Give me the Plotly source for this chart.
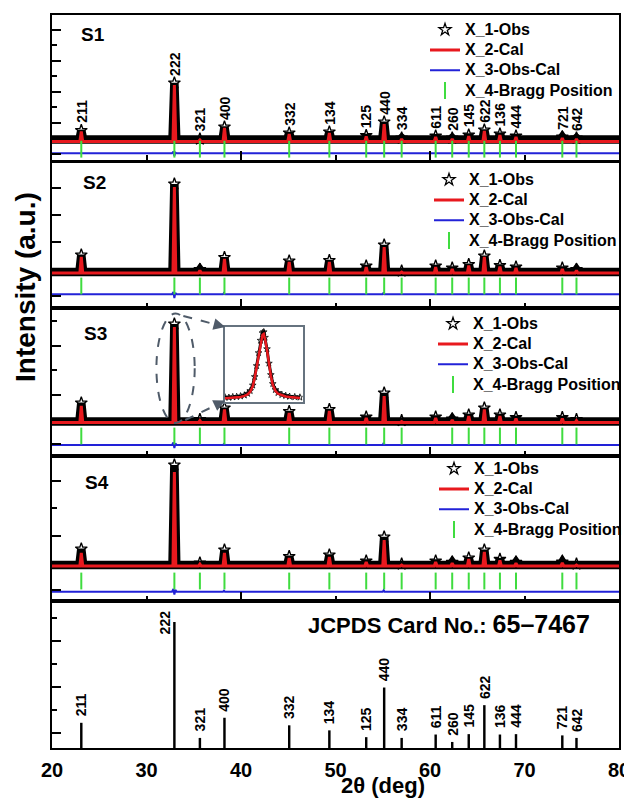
import plotly.graph_objects as go

# ---------------- data ----------------
two_theta = [23.1, 32.95, 35.65, 38.25, 45.1, 49.35, 53.25, 55.15, 57.0, 60.6,
             62.35, 64.1, 65.75, 67.4, 69.1, 74.0, 75.5]
hkl = ["211", "222", "321", "400", "332", "134", "125", "440", "334", "611",
       "260", "145", "622", "136", "444", "721", "642"]
jcpds_intensity = [20, 100, 8, 24, 18, 14, 8.6, 48, 8, 10.7, 4.8, 11, 34, 10.7, 11, 10, 8]

samples = ["S1", "S2", "S3", "S4"]
cal_background = [18.5, 35.0, 33.5, 35.0]
obs_background = [20.5, 36.0, 34.5, 36.0]

cal_S1 = [28.5, 75, 20, 32, 26, 27, 23.5, 36, 21, 23, 21, 24, 29, 25, 23, 22, 21]
obs_S1 = [29.5, 77, 21, 33, 27, 28, 24.5, 38, 22, 24, 22, 25, 30, 26, 24, 23, 22]
cal_S2 = [51, 121, 37.5, 49, 46, 46, 41, 61, 36, 41, 39, 42.5, 51, 41.5, 40, 39, 37.5]
obs_S2 = [53, 124, 38.5, 50.5, 47, 47.5, 42, 63, 37, 42, 40, 43.5, 52, 42.5, 41, 40, 38.5]
cal_S3 = [50, 129, 35.5, 46.5, 43, 45, 38, 60, 34.5, 38, 36, 40, 46.5, 40, 37.5, 37.5, 35.5]
obs_S3 = [53, 132, 36.5, 48, 44.5, 46.5, 39, 63, 35.5, 39, 37, 41, 48, 41, 38.5, 38.5, 36.5]
cal_S4 = [48, 129, 37, 48, 43, 44, 39, 61, 36, 39, 37.7, 42, 49, 40.7, 37.7, 38, 36]
obs_S4 = [52, 136, 38, 51, 44.5, 46, 40, 64, 37, 40, 38.7, 43, 51, 41.7, 38.7, 39, 37]

diff_x = [20, 32.7, 32.85, 32.95, 33.05, 33.2, 38.1, 38.2, 38.3, 55.0, 55.1, 55.2, 80]
diff_S1 = [6.7, 6.7, 8.5, 4.0, 7.5, 6.7, 6.7, 7.2, 6.7, 6.7, 7.2, 6.7, 6.7]
diff_S2 = [13.7, 13.7, 16.0, 10.0, 15.0, 13.7, 13.7, 15.0, 13.7, 13.7, 15.5, 13.7, 13.7]
diff_S3 = [11.0, 11.0, 13.5, 8.0, 12.5, 11.0, 11.0, 12.0, 11.0, 11.0, 13.0, 11.0, 11.0]
diff_S4 = [9.3, 9.3, 12.0, 6.5, 11.0, 9.3, 9.3, 10.3, 9.3, 9.3, 10.8, 9.3, 9.3]

# inset: zoom on the 222 reflection of S3
inset_x = [32.30, 32.36, 32.42, 32.48, 32.54, 32.60, 32.65, 32.69, 32.73, 32.76, 32.79,
           32.82, 32.85, 32.88, 32.90, 32.92, 32.95, 32.98, 33.01, 33.04, 33.08, 33.12,
           33.18, 33.24, 33.30, 33.38, 33.46]
inset_cal = [3.5, 3.7, 4.0, 4.3, 4.8, 5.8, 7.3, 10, 15.5, 24, 35, 48, 60, 67, 68, 63, 52,
             37, 26, 17, 11, 8, 6.3, 5.3, 4.7, 4.2, 3.8]
inset_obs = [4.5, 4.2, 4.8, 5.0, 5.6, 6.5, 8.2, 11, 16.5, 25, 36, 49, 61.5, 69, 70, 64.5,
             53, 38.5, 27, 18, 12, 9, 7.0, 6.0, 5.2, 4.8, 4.4]

# ---------------- styling ----------------
FONT = "Liberation Sans, Arial, sans-serif"
RED = "#e8191e"
BLUE = "#2222d8"
GREEN = "#3fdc3f"
GREY = "#4f5b69"
PAGE_OFF = 8                     # default body margin of the html page
W, H = 632 - PAGE_OFF, 808 - 2 * PAGE_OFF
PL, PT, PR, PB = 52, 15, 619, 748   # plot area in page pixels
ML, MT = PL - PAGE_OFF, PT - PAGE_OFF
MR, MB = 632 - PR, (H + PAGE_OFF) - PB
PW, PH = PR - PL, PB - PT


def px_x(x):
    return (x - PL) / PW


def px_y(y):
    return (PB - y) / PH


def ydom(top, bottom):
    return [px_y(bottom), px_y(top)]


panel_px = [(15, 160), (163, 308), (308, 456), (456, 601)]
jcpds_px = (601, 748)

cal_sets = [cal_S1, cal_S2, cal_S3, cal_S4]
obs_sets = [obs_S1, obs_S2, obs_S3, obs_S4]
diff_sets = [diff_S1, diff_S2, diff_S3, diff_S4]
bragg_level = [10.8, 22.0, 20.0, 20.0]
tick_spec = [(6.5, 31, 15.5), (12, 27, None), (12.5, 49, 24.5), (10.7, 54.6, 27.3)]
legend_pos = [(464, 14.5), (468, 164.5), (472, 308.5), (473, 453.5)]
label_pos = [(93, 35), (94, 182), (95, 333), (97, 482)]
LEG_TXT = "<span style='font-size:16px'>%s</span>"


def profile(bg, heights, hw):
    xs, ys = [20.0], [bg]
    for p, h in zip(two_theta, heights):
        xs += [p - hw, p, p + hw]
        ys += [bg, h, bg]
    xs.append(80.0)
    ys.append(bg)
    return xs, ys


fig = go.Figure()
layout = dict(
    width=W, height=H,
    margin=dict(l=ML, r=MR, t=MT, b=MB, autoexpand=False),
    plot_bgcolor="white", paper_bgcolor="white",
    font=dict(family=FONT, color="black"),
    showlegend=True,
)

annotations = []
shapes = []

for i, s in enumerate(samples):
    k = i + 1
    sfx = "" if k == 1 else str(k)
    xa, ya = "x" + sfx, "y" + sfx
    leg = "legend" if k == 1 else "legend%d" % k
    top, bot = panel_px[i]
    ox, oy = profile(obs_background[i], obs_sets[i], 0.2)
    cx, cy = profile(cal_background[i], cal_sets[i], 0.15)
    fig.add_trace(go.Scatter(x=ox, y=oy, mode="lines", line=dict(color="black", width=8.5),
                             showlegend=False, hoverinfo="skip", xaxis=xa, yaxis=ya))
    fig.add_trace(go.Scatter(x=two_theta, y=obs_sets[i], mode="markers", name=LEG_TXT % "X_1-Obs",
                             marker=dict(symbol="star-open", size=9, color="black",
                                         line=dict(color="black", width=1.3)),
                             legend=leg, xaxis=xa, yaxis=ya))
    fig.add_trace(go.Scatter(x=cx, y=cy, mode="lines", name=LEG_TXT % "X_2-Cal",
                             line=dict(color=RED, width=3), legend=leg, xaxis=xa, yaxis=ya))
    fig.add_trace(go.Scatter(x=diff_x, y=diff_sets[i], mode="lines", name=LEG_TXT % "X_3-Obs-Cal",
                             line=dict(color=BLUE, width=2), legend=leg, xaxis=xa, yaxis=ya))
    bx = [p for p in two_theta if not (s == "S3" and abs(p - 60.6) < 0.01)]
    fig.add_trace(go.Scatter(x=bx, y=[bragg_level[i]] * len(bx), mode="markers",
                             name=LEG_TXT % "X_4-Bragg Position",
                             marker=dict(symbol="line-ns", size=12, color=GREEN,
                                         line=dict(color=GREEN, width=2)),
                             legend=leg, xaxis=xa, yaxis=ya))
    t0, dt, mdt = tick_spec[i]
    yax = dict(domain=ydom(top, bot), range=[0, bot - top], anchor=xa,
               showline=True, linecolor="black", linewidth=2, mirror=True,
               ticks="inside", tick0=t0, dtick=dt, ticklen=9, tickwidth=2, tickcolor="black",
               showticklabels=False, showgrid=False, zeroline=False)
    if mdt:
        yax["minor"] = dict(ticks="inside", tick0=t0, dtick=mdt, ticklen=5, tickwidth=2,
                            tickcolor="black", showgrid=False)
    xax = dict(domain=[0, 1], range=[20, 80], anchor=ya,
               showline=True, linecolor="black", linewidth=2, mirror=True,
               ticks="inside", tick0=20, dtick=20, ticklen=9, tickwidth=2, tickcolor="black",
               minor=dict(ticks="inside", tick0=20, dtick=10, ticklen=5, tickwidth=2,
                          tickcolor="black", showgrid=False),
               showticklabels=False, showgrid=False, zeroline=False)
    layout["xaxis" + sfx] = xax
    layout["yaxis" + sfx] = yax
    lx, ly = legend_pos[i]
    layout[leg] = dict(x=px_x(lx - 39), y=px_y(ly), xanchor="left", yanchor="top",
                       bgcolor="rgba(0,0,0,0)", borderwidth=0, tracegroupgap=0,
                       font=dict(family=FONT, size=13.3, color="black", weight="bold"))
    sx, sy = label_pos[i]
    annotations.append(dict(text=s, x=px_x(sx), y=px_y(sy), xref="paper", yref="paper",
                            showarrow=False, xanchor="center", yanchor="middle",
                            font=dict(family=FONT, size=19, color="black", weight="bold")))

# hkl labels above S1 peaks
for p, h, lab in zip(two_theta, obs_S1, hkl):
    annotations.append(dict(text=lab, x=p, y=h + 5.5, xref="x", yref="y", textangle=-90,
                            showarrow=False, xanchor="center", yanchor="bottom",
                            font=dict(family=FONT, size=14, color="black", weight="bold")))

# JCPDS stick pattern
jtop, jbot = jcpds_px
jrange = (jbot - jtop) / 1.26
fig.add_trace(go.Bar(x=two_theta, y=jcpds_intensity, width=0.26,
                     marker=dict(color="black", line=dict(width=0)),
                     showlegend=False, hoverinfo="skip", xaxis="x5", yaxis="y5"))
layout["xaxis5"] = dict(domain=[0, 1], range=[20, 80], anchor="y5",
                        showline=True, linecolor="black", linewidth=2, mirror=True,
                        ticks="", tick0=20, dtick=10, ticklabelstandoff=3,
                        tickfont=dict(family=FONT, size=20, color="black", weight="bold"),
                        showgrid=False, zeroline=False)
layout["yaxis5"] = dict(domain=ydom(jtop, jbot), range=[0, jrange], anchor="x5",
                        showline=True, linecolor="black", linewidth=2, mirror=True,
                        ticks="inside", tick0=11.9, dtick=36.5, ticklen=9, tickwidth=2,
                        tickcolor="black",
                        minor=dict(ticks="inside", tick0=11.9, dtick=18.25, ticklen=5,
                                   tickwidth=2, tickcolor="black", showgrid=False),
                        showticklabels=False, showgrid=False, zeroline=False)
for p, h, lab in zip(two_theta, jcpds_intensity, hkl):
    if lab == "222":
        annotations.append(dict(text=lab, x=p, y=h, xref="x5", yref="y5", textangle=-90,
                                showarrow=False, xanchor="center", yanchor="middle", xshift=-9,
                                font=dict(family=FONT, size=14, color="black", weight="bold")))
    else:
        annotations.append(dict(text=lab, x=p, y=h + 3.5, xref="x5", yref="y5", textangle=-90,
                                showarrow=False, xanchor="center", yanchor="bottom",
                                font=dict(family=FONT, size=14, color="black", weight="bold")))
annotations.append(dict(text="JCPDS Card No.: <span style='font-size:25px'>65\u20137467</span>",
                        x=px_x(449), y=px_y(624), xref="paper", yref="paper", showarrow=False,
                        xanchor="center", yanchor="middle",
                        font=dict(family=FONT, size=22, color="black", weight="bold")))

# inset of the S3 222 reflection
fig.add_trace(go.Scatter(x=inset_x, y=inset_obs, mode="lines", line=dict(color="black", width=3),
                         showlegend=False, hoverinfo="skip", xaxis="x6", yaxis="y6"))
fig.add_trace(go.Scatter(x=inset_x, y=inset_obs, mode="markers",
                         marker=dict(symbol="star-open", size=5, color="black",
                                     line=dict(color="black", width=0.8)),
                         showlegend=False, hoverinfo="skip", xaxis="x6", yaxis="y6"))
fig.add_trace(go.Scatter(x=inset_x, y=inset_cal, mode="lines", line=dict(color=RED, width=2.5),
                         showlegend=False, hoverinfo="skip", xaxis="x6", yaxis="y6"))
layout["xaxis6"] = dict(domain=[px_x(225), px_x(302.5)], range=[32.3, 33.5], anchor="y6",
                        showline=True, linecolor="#66737f", linewidth=1.5, mirror=True,
                        ticks="", showticklabels=False, showgrid=False, zeroline=False)
layout["yaxis6"] = dict(domain=[px_y(401.7), px_y(327)], range=[0, 75], anchor="x6",
                        showline=True, linecolor="#66737f", linewidth=1.5, mirror=True,
                        ticks="", showticklabels=False, showgrid=False, zeroline=False)

# dashed ellipse and arrows (S3)
shapes.append(dict(type="circle", xref="x3", yref="y3", x0=31.05, x1=35.1, y0=33, y1=142.5,
                   line=dict(color=GREY, width=2, dash="dash")))
shapes.append(dict(type="line", xref="x3", yref="y3", x0=33.9, y0=140, x1=38.1, y1=129.6,
                   line=dict(color=GREY, width=2, dash="dash")))
shapes.append(dict(type="line", xref="x3", yref="y3", x0=34.1, y0=36, x1=38.1, y1=54.3,
                   line=dict(color=GREY, width=2, dash="dash")))
annotations.append(dict(text="", x=38.33, y=129, xref="x3", yref="y3", showarrow=True,
                        ax=-10, ay=-2.6, arrowhead=2, arrowsize=1.3, arrowwidth=1.8,
                        arrowcolor=GREY, standoff=0))
annotations.append(dict(text="", x=38.33, y=55.5, xref="x3", yref="y3", showarrow=True,
                        ax=-9, ay=4.3, arrowhead=2, arrowsize=1.3, arrowwidth=1.8,
                        arrowcolor=GREY, standoff=0))

# axis titles
annotations.append(dict(text="Intensity (a.u.)", x=px_x(25), y=px_y(287), xref="paper",
                        yref="paper", textangle=-90, showarrow=False, xanchor="center",
                        yanchor="middle",
                        font=dict(family=FONT, size=28, color="black", weight="bold")))
annotations.append(dict(text="2\u03b8 (deg)", x=px_x(383), y=px_y(785), xref="paper",
                        yref="paper", showarrow=False, xanchor="center", yanchor="middle",
                        font=dict(family=FONT, size=22, color="black", weight="bold")))

layout["annotations"] = annotations
layout["shapes"] = shapes
fig.update_layout(**layout)
fig.write_html("out.html")
